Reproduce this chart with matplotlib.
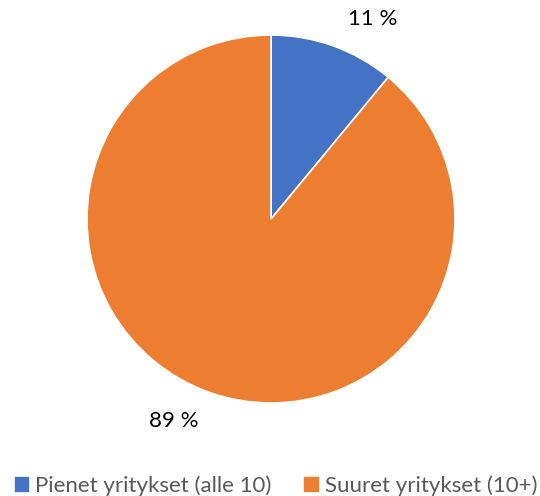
import numpy as np
import matplotlib.pyplot as plt

# data
labels = ['Pienet yritykset (alle 10)', 'Suuret yritykset (10+)']
values = [11, 89]
colors = ['#4472C4', '#ED7D31']

plt.rcParams['font.family'] = ['Lato', 'DejaVu Sans']

fig = plt.figure(figsize=(5.4, 4.96), dpi=100)
# pie centre at (271, 219) px, radius 184 px
r = 184
ax = fig.add_axes([(271 - r) / 540, 1 - (219 + r) / 496, 2 * r / 540, 2 * r / 496])

wedges, texts, autotexts = ax.pie(values, colors=colors, startangle=90, counterclock=False,
                                  autopct=lambda p: f'{p:.0f} %', pctdistance=1.23,
                                  wedgeprops=dict(edgecolor='white', linewidth=1.2),
                                  textprops=dict(fontsize=16, color='black'))
# shift labels a little towards the first slice edge, as in the reference
shifts = [-7, -6]
for w, t, s in zip(wedges, autotexts, shifts):
    ang = np.deg2rad((w.theta1 + w.theta2) / 2 + s)
    t.set_position((1.22 * np.cos(ang), 1.22 * np.sin(ang)))
ax.set_xlim(-1, 1)
ax.set_ylim(-1, 1)
ax.set_aspect('equal')

leg = fig.legend(wedges, labels, loc='center', bbox_to_anchor=(0.51, 1 - 486 / 496), ncol=2,
                 frameon=False, fontsize=16, handlelength=0.75, handleheight=0.75,
                 handletextpad=0.2, columnspacing=1.45)
for t in leg.get_texts():
    t.set_color('#595959')

fig.savefig('out.png', dpi=100)
